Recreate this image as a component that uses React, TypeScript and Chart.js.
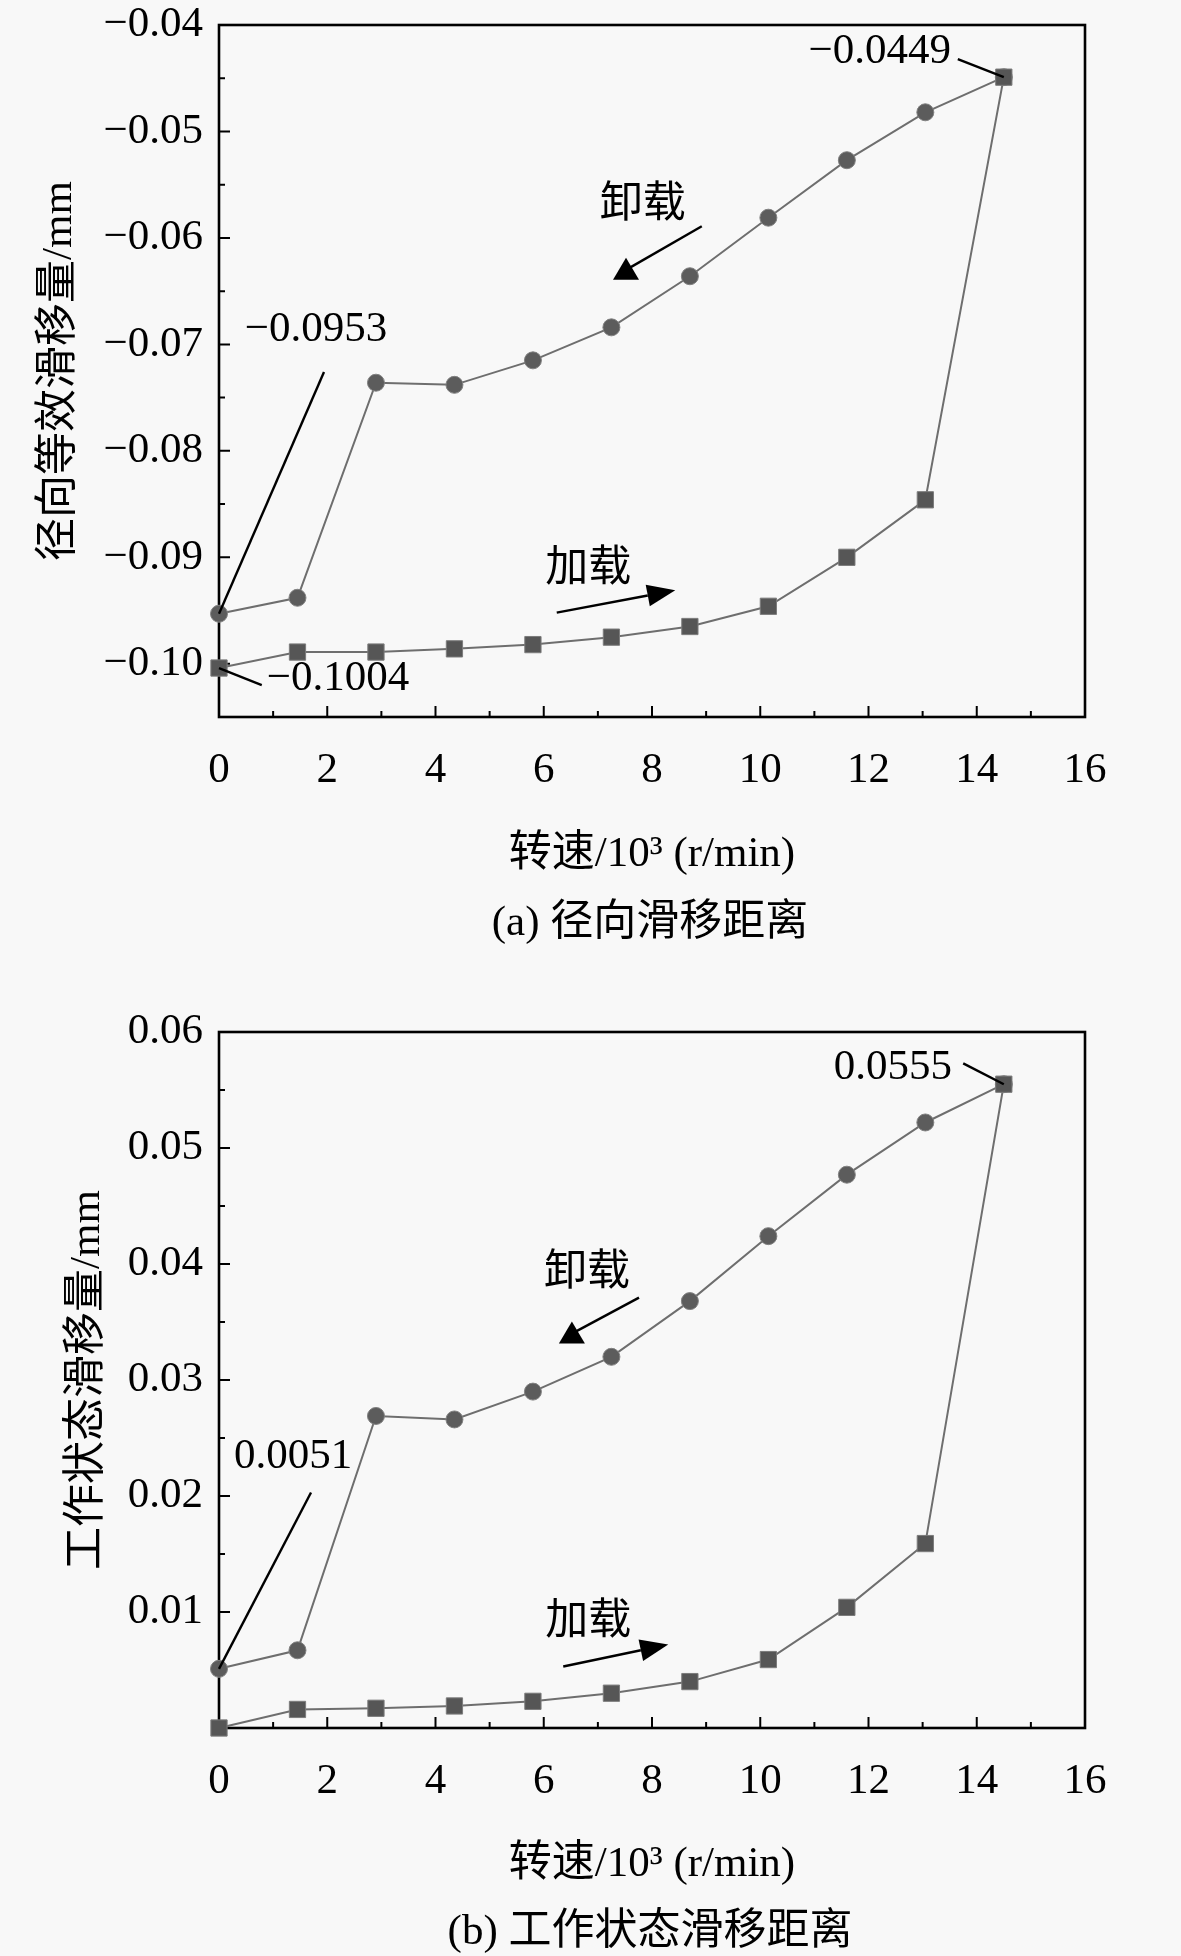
import React, { useEffect, useRef } from 'react';
import { Chart, registerables } from 'chart.js';

Chart.register(...registerables);

// 转速 (10^3 r/min)
const speeds = [0, 1.45, 2.9, 4.35, 5.8, 7.25, 8.7, 10.15, 11.6, 13.05, 14.5];

// (a) 径向等效滑移量 /mm
const radialLoading = [-0.1004, -0.0989, -0.0989, -0.0986, -0.0982, -0.0975, -0.0965, -0.0946, -0.09, -0.0846, -0.0449];
const radialUnloading = [-0.0953, -0.0938, -0.0736, -0.0738, -0.0715, -0.0684, -0.0636, -0.0581, -0.0527, -0.0482, -0.0449];

// (b) 工作状态滑移量 /mm
const workLoading = [0, 0.0016, 0.0017, 0.0019, 0.0023, 0.003, 0.004, 0.0059, 0.0104, 0.0159, 0.0555];
const workUnloading = [0.0051, 0.0067, 0.0269, 0.0266, 0.029, 0.032, 0.0368, 0.0424, 0.0477, 0.0522, 0.0555];

const xTicks = [0, 2, 4, 6, 8, 10, 12, 14, 16];
const xMinorTicks = [1, 3, 5, 7, 9, 11, 13, 15];
const radialTicks = [-0.1, -0.09, -0.08, -0.07, -0.06, -0.05, -0.04];
const radialMinorTicks = [-0.095, -0.085, -0.075, -0.065, -0.055, -0.045];
const workTicks = [0, 0.01, 0.02, 0.03, 0.04, 0.05, 0.06];
const workMinorTicks = [0.005, 0.015, 0.025, 0.035, 0.045, 0.055];

const FONT_FAMILY = '"Liberation Serif", "Noto Sans CJK SC", serif';
const FONT_SIZE = 43;
const W = 1181;
const H = 978;

type Pt = [number, number];
type Label = { text: string; at: Pt; from: Pt; to: Pt };
type Arrow = { text: string; at: Pt; from: Pt; to: Pt; head: 'arrow' | 'triangle' };

type PanelProps = {
  loading: number[];
  unloading: number[];
  yMin: number;
  yMax: number;
  yTicks: number[];
  yMinor: number[];
  yTitle: string;
  caption: string;
  padTop: number;
  yTitlePad: number;
  xTitlePad: number;
  xHeight: number;
  captionY: number;
  labels: Label[];
  arrows: Arrow[];
};

function fmtY(v: number) {
  if (Math.abs(v) < 1e-9) return '';
  return (v < 0 ? '\u2212' : '') + Math.abs(v).toFixed(2);
}

function Panel(p: PanelProps) {
  const chartRef = useRef<HTMLCanvasElement | null>(null);

  useEffect(() => {
    if (!chartRef.current) return;

    const decor = {
      id: 'decor',
      beforeDatasetsDraw(chart: any) {
        const { ctx, chartArea: a, scales } = chart;
        const xs = scales.x;
        const ys = scales.y;
        ctx.save();
        ctx.strokeStyle = '#000';
        ctx.lineWidth = 2;
        ctx.beginPath();
        const tick = (v: number, len: number, horiz: boolean) => {
          if (horiz) {
            const px = xs.getPixelForValue(v);
            ctx.moveTo(px, a.bottom);
            ctx.lineTo(px, a.bottom - len);
          } else {
            const py = ys.getPixelForValue(v);
            ctx.moveTo(a.left, py);
            ctx.lineTo(a.left + len, py);
          }
        };
        xTicks.forEach((v) => tick(v, 11, true));
        xMinorTicks.forEach((v) => tick(v, 6, true));
        p.yTicks.forEach((v) => tick(v, 11, false));
        p.yMinor.forEach((v) => tick(v, 6, false));
        ctx.stroke();
        ctx.lineWidth = 2.6;
        ctx.strokeRect(a.left, a.top, a.right - a.left, a.bottom - a.top);
        ctx.restore();
      },
      afterDatasetsDraw(chart: any) {
        const { ctx, scales } = chart;
        const px = (pt: Pt): Pt => [scales.x.getPixelForValue(pt[0]), scales.y.getPixelForValue(pt[1])];
        ctx.save();
        ctx.font = `${FONT_SIZE}px ${FONT_FAMILY}`;
        ctx.fillStyle = '#000';
        ctx.strokeStyle = '#000';
        ctx.textAlign = 'center';
        ctx.textBaseline = 'middle';
        ctx.lineWidth = 2.4;

        p.labels.forEach((l) => {
          const [fx, fy] = px(l.from);
          const [tx, ty] = px(l.to);
          ctx.beginPath();
          ctx.moveTo(fx, fy);
          ctx.lineTo(tx, ty);
          ctx.stroke();
          const [lx, ly] = px(l.at);
          ctx.fillText(l.text, lx, ly);
        });

        p.arrows.forEach((ar) => {
          const [fx, fy] = px(ar.from);
          const [tx, ty] = px(ar.to);
          const [lx, ly] = px(ar.at);
          ctx.fillText(ar.text, lx, ly);
          ctx.beginPath();
          if (ar.head === 'arrow') {
            const ang = Math.atan2(ty - fy, tx - fx);
            const len = 28;
            const half = 11;
            const bx = tx - len * Math.cos(ang);
            const by = ty - len * Math.sin(ang);
            ctx.moveTo(fx, fy);
            ctx.lineTo(bx, by);
            ctx.stroke();
            ctx.beginPath();
            ctx.moveTo(tx, ty);
            ctx.lineTo(bx + half * Math.sin(ang), by - half * Math.cos(ang));
            ctx.lineTo(bx - half * Math.sin(ang), by + half * Math.cos(ang));
            ctx.closePath();
            ctx.fill();
          } else {
            ctx.moveTo(fx, fy);
            ctx.lineTo(tx, ty);
            ctx.stroke();
            ctx.beginPath();
            ctx.moveTo(tx, ty - 12);
            ctx.lineTo(tx + 13, ty + 10);
            ctx.lineTo(tx - 13, ty + 10);
            ctx.closePath();
            ctx.fill();
          }
        });

        ctx.fillText(p.caption, 650, p.captionY);
        ctx.restore();
      },
    };

    const font = { family: FONT_FAMILY, size: FONT_SIZE };

    const chart = new Chart(chartRef.current, {
      type: 'line',
      data: {
        datasets: [
          {
            label: '加载',
            data: speeds.map((x, i) => ({ x, y: p.loading[i] })),
            borderColor: '#6e6e6e',
            borderWidth: 2,
            pointStyle: 'rect',
            pointRadius: 11.5,
            pointBackgroundColor: '#565656',
            pointBorderColor: '#7c7c7c',
            pointBorderWidth: 1,
            clip: false,
          },
          {
            label: '卸载',
            data: speeds.map((x, i) => ({ x, y: p.unloading[i] })),
            borderColor: '#6e6e6e',
            borderWidth: 2,
            pointStyle: 'circle',
            pointRadius: 8.5,
            pointBackgroundColor: '#5c5c5c',
            pointBorderColor: '#808080',
            pointBorderWidth: 1,
            clip: false,
          },
        ],
      },
      options: {
        responsive: false,
        animation: false,
        events: [],
        layout: { padding: { left: 20, right: 96, top: p.padTop, bottom: 0 } },
        plugins: {
          legend: { display: false },
          tooltip: { enabled: false },
          title: { display: false },
        },
        scales: {
          x: {
            type: 'linear',
            min: 0,
            max: 16,
            afterBuildTicks: (s: any) => {
              s.ticks = xTicks.map((v) => ({ value: v }));
            },
            afterFit: (s: any) => {
              s.height = p.xHeight;
              s.paddingLeft = 0;
              s.paddingRight = 0;
            },
            grid: { display: false, drawTicks: false },
            border: { display: false },
            ticks: {
              autoSkip: false,
              maxRotation: 0,
              padding: 28,
              color: '#000',
              font,
              callback: (v: any) => String(v),
            },
            title: {
              display: true,
              text: '转速/10³ (r/min)',
              color: '#000',
              font,
              padding: { top: 0, bottom: p.xTitlePad },
            },
          },
          y: {
            type: 'linear',
            min: p.yMin,
            max: p.yMax,
            afterBuildTicks: (s: any) => {
              s.ticks = p.yTicks.map((v) => ({ value: v }));
            },
            afterFit: (s: any) => {
              s.width = 199;
              s.paddingTop = 0;
              s.paddingBottom = 0;
            },
            grid: { display: false, drawTicks: false },
            border: { display: false },
            ticks: {
              padding: 16,
              color: '#000',
              font,
              callback: (v: any) => fmtY(Number(v)),
            },
            title: {
              display: true,
              text: p.yTitle,
              color: '#000',
              font,
              padding: { top: p.yTitlePad, bottom: 0 },
            },
          },
        },
      },
      plugins: [decor],
    } as any);

    return () => {
      chart.destroy();
    };
  }, []);

  return <canvas ref={chartRef} width={W} height={H} style={{ display: 'block', width: W, height: H }}></canvas>;
}

export default function App() {
  const a = {
    loading: radialLoading,
    unloading: radialUnloading,
    yMin: -0.105,
    yMax: -0.04,
    yTicks: radialTicks,
    yMinor: radialMinorTicks,
    yTitle: '径向等效滑移量/mm',
    caption: '(a) 径向滑移距离',
    padTop: 25,
    yTitlePad: 14,
    xTitlePad: 97,
    xHeight: 261,
    captionY: 924,
    labels: [
      { text: '\u22120.0953', at: [1.79, -0.0686], from: [1.94, -0.0726], to: [speeds[0], radialUnloading[0]] },
      { text: '\u22120.1004', at: [2.2, -0.1014], from: [0.79, -0.102], to: [speeds[0], radialLoading[0]] },
      { text: '\u22120.0449', at: [12.21, -0.0425], from: [13.65, -0.0432], to: [speeds[10], radialLoading[10]] },
    ] as Label[],
    arrows: [
      { text: '卸载', at: [7.83, -0.057], from: [8.92, -0.0589], to: [7.52, -0.063], head: 'triangle' },
      { text: '加载', at: [6.82, -0.0912], from: [6.24, -0.0952], to: [8.43, -0.0931], head: 'arrow' },
    ] as Arrow[],
  };

  const b = {
    loading: workLoading,
    unloading: workUnloading,
    yMin: 0,
    yMax: 0.06,
    yTicks: workTicks,
    yMinor: workMinorTicks,
    yTitle: '工作状态滑移量/mm',
    caption: '(b) 工作状态滑移距离',
    padTop: 54,
    yTitlePad: 42,
    xTitlePad: 65,
    xHeight: 228,
    captionY: 955,
    labels: [
      { text: '0.0051', at: [1.37, 0.0234], from: [1.7, 0.0203], to: [speeds[0], workUnloading[0]] },
      { text: '0.0555', at: [12.45, 0.0569], from: [13.75, 0.0573], to: [speeds[10], workLoading[10]] },
    ] as Label[],
    arrows: [
      { text: '卸载', at: [6.8, 0.0392], from: [7.76, 0.0371], to: [6.52, 0.034], head: 'triangle' },
      { text: '加载', at: [6.82, 0.0091], from: [6.36, 0.0053], to: [8.3, 0.0072], head: 'arrow' },
    ] as Arrow[],
  };

  return (
    <div style={{ position: 'absolute', left: 0, top: 0, width: W, height: 2 * H, background: '#f8f8f8' }}>
      <Panel {...a} />
      <Panel {...b} />
    </div>
  );
}
